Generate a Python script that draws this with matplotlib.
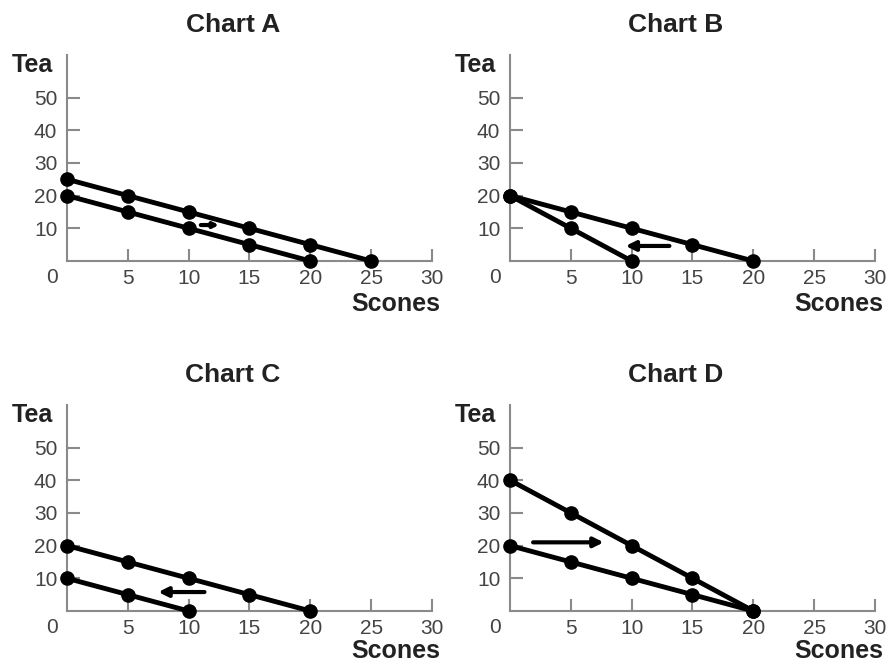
import matplotlib.pyplot as plt

plt.rcParams['font.family'] = ['Liberation Sans', 'DejaVu Sans']

# datos de cada grafico: dos curvas por panel
a1_x = [0, 5, 10, 15, 20, 25]
a1_y = [25, 20, 15, 10, 5, 0]
a2_x = [0, 5, 10, 15, 20]
a2_y = [20, 15, 10, 5, 0]

b1_x = [0, 5, 10, 15, 20]
b1_y = [20, 15, 10, 5, 0]
b2_x = [0, 5, 10]
b2_y = [20, 10, 0]

c1_x = [0, 5, 10, 15, 20]
c1_y = [20, 15, 10, 5, 0]
c2_x = [0, 5, 10]
c2_y = [10, 5, 0]

d1_x = [0, 5, 10, 15, 20]
d1_y = [40, 30, 20, 10, 0]
d2_x = [0, 5, 10, 15, 20]
d2_y = [20, 15, 10, 5, 0]

# flechas (inicio x, fin x, y)
arrow_a = (11.0, 12.5, 11)
arrow_b = (13.1, 9.5, 4.6)
arrow_c = (11.3, 7.5, 5.8)
arrow_d = (1.9, 7.7, 21)

x_ticks = [5, 10, 15, 20, 25, 30]
y_ticks = [10, 20, 30, 40, 50]

panels = [
    ('Chart A', [(a1_x, a1_y), (a2_x, a2_y)], arrow_a, 0.5),
    ('Chart B', [(b1_x, b1_y), (b2_x, b2_y)], arrow_b, 1.0),
    ('Chart C', [(c1_x, c1_y), (c2_x, c2_y)], arrow_c, 1.0),
    ('Chart D', [(d1_x, d1_y), (d2_x, d2_y)], arrow_d, 1.0),
]

W, H = 887, 664
fig = plt.figure(figsize=(W / 100, H / 100), dpi=100)

# posiciones en pixeles: (izquierda, abajo desde arriba)
origins = [(67, 261), (510, 261), (67, 611), (510, 611)]
ax_w, ax_h = 365, 206

axis_col = '#8a8a8a'
text_col = '#444444'

for i, ((title, curves, arr, head), (px, py)) in enumerate(zip(panels, origins)):
    ax = fig.add_axes([px / W, 1 - py / H, ax_w / W, ax_h / H])
    ax.set_xlim(0, 30)
    ax.set_ylim(0, 63)
    for s in ['top', 'right']:
        ax.spines[s].set_visible(False)
    for s in ['left', 'bottom']:
        ax.spines[s].set_color(axis_col)
        ax.spines[s].set_linewidth(1.5)

    for cx, cy in curves:
        ax.plot(cx, cy, color='black', lw=3.5, marker='o', ms=9.5,
                clip_on=False, zorder=3)

    x0, x1, ay = arr
    ax.annotate('', xy=(x1, ay), xytext=(x0, ay),
                arrowprops=dict(arrowstyle='-|>', color='black', lw=3,
                                mutation_scale=14 * head, shrinkA=0, shrinkB=0))

    ax.set_xticks(x_ticks)
    ax.set_yticks(y_ticks)
    ax.tick_params(direction='in', length=9, width=1.5, color=axis_col,
                   labelsize=15, labelcolor=text_col)
    ax.tick_params(axis='x', pad=6)
    ax.tick_params(axis='y', pad=7)
    ax.text(-0.041, -0.035, '0', transform=ax.transAxes, ha='center', va='top',
            fontsize=15, color=text_col)

    # en la fila de abajo la etiqueta queda pegada al borde
    sc_y = -0.243 if i < 2 else -0.228
    ax.text(-0.038, 0.917, 'Tea', transform=ax.transAxes, ha='right',
            va='baseline', fontsize=18, fontweight='bold', color='#222222')
    ax.text(1.022, sc_y, 'Scones', transform=ax.transAxes, ha='right',
            va='baseline', fontsize=18, fontweight='bold', color='#222222')
    ax.text(0.455, 1.11, title, transform=ax.transAxes, ha='center',
            va='baseline', fontsize=19, fontweight='bold', color='#222222')

plt.savefig('out.png', dpi=100)
